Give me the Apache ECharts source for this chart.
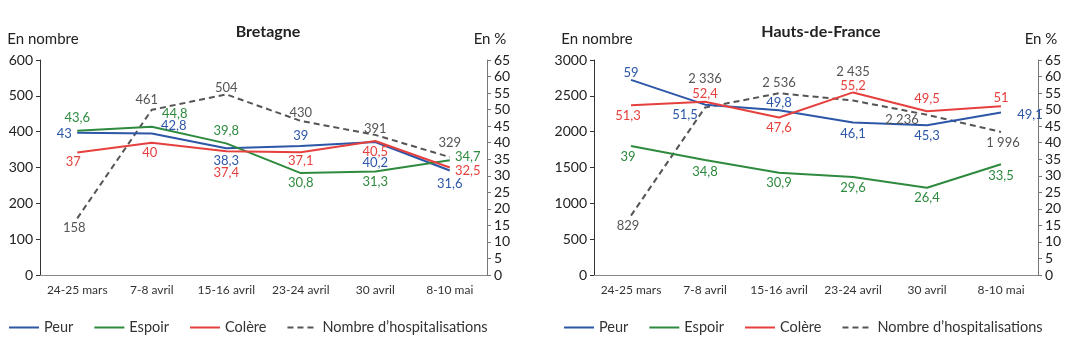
<!DOCTYPE html>
<html>
<head>
<meta charset="utf-8">
<script src="https://cdn.jsdelivr.net/npm/echarts@6/dist/echarts.min.js"></script>
<style>html,body{margin:0;padding:0;background:#fff}#c{width:1087px;height:339px}</style>
</head>
<body>
<div id="c"></div>
<script>
// ---- data ----
const categories = ['24-25 mars', '7-8 avril', '15-16 avril', '23-24 avril', '30 avril', '8-10 mai'];
const seriesNames = ['Peur', 'Espoir', 'Colère', 'Nombre d\u2019hospitalisations'];
const bretagnePeur = [43, 42.8, 38.3, 39, 40.2, 31.6];
const bretagneEspoir = [43.6, 44.8, 39.8, 30.8, 31.3, 34.7];
const bretagneColere = [37, 40, 37.4, 37.1, 40.5, 32.5];
const bretagneHosp = [158, 461, 504, 430, 391, 329];
const hdfPeur = [59, 51.5, 49.8, 46.1, 45.3, 49.1];
const hdfEspoir = [39, 34.8, 30.9, 29.6, 26.4, 33.5];
const hdfColere = [51.3, 52.4, 47.6, 55.2, 49.5, 51];
const hdfHosp = [829, 2336, 2536, 2435, 2236, 1996];

// ---- label placement (offsets from point, px) ----
const offB = {
  peur:   [[-13,1],[22,-8],[0,12],[0,-10],[0,21],[0,13]],
  espoir: [[0,-13],[23,-13],[0,-13],[0,10],[0,10],[18,-3]],
  colere: [[-4,9],[-2,10],[0,22],[0,9],[0,11],[18,3]],
  hosp:   [[-3,9],[-5,-10],[0,-7],[0,-8],[0,-6],[0,-14]]
};
const offH = {
  peur:   [[0,-7],[-20,10],[0,-7],[0,11],[0,11],[29,2]],
  espoir: [[-3,11],[0,12],[0,10],[0,11],[0,10],[0,12]],
  colere: [[-3,10],[0,-8],[0,10],[0,-7],[0,-12],[0,-8]],
  hosp:   [[-3,10],[0,-29],[0,-10],[0,-29],[-25,5],[2,11]]
};

const colors = { peur: '#2c56a6', espoir: '#2e8a3e', colere: '#e5403e', hosp: '#555555' };
const FONT = 'Lato';

function fmt(v) {
  let s = String(v).replace('.', ',');
  if (v >= 1000) s = s.replace(/\B(?=(\d{3})+(?!\d))/g, ' ');
  return s;
}

function mkSeries(name, values, offs, color, xi, yi, dashed) {
  return {
    name: name,
    type: 'line',
    xAxisIndex: xi,
    yAxisIndex: yi,
    symbol: 'circle',
    symbolSize: 1,
    itemStyle: { color: 'rgba(0,0,0,0)' },
    lineStyle: { color: color, width: 2, type: dashed ? [6, 4] : 'solid' },
    animation: false,
    label: {
      show: true,
      position: 'inside',
      color: color,
      fontFamily: FONT,
      fontSize: 13,
      formatter: p => fmt(p.value)
    },
    data: values.map((v, i) => ({ value: v, label: { offset: offs[i] } }))
  };
}

const leftAxisBase = {
  type: 'value',
  position: 'left',
  axisLine: { show: true, lineStyle: { color: '#333', width: 1 } },
  axisTick: { show: true, length: 4, lineStyle: { color: '#333' } },
  axisLabel: { color: '#222', fontFamily: FONT, fontSize: 14, margin: 7, formatter: v => String(v) },
  splitLine: { show: false },
  nameLocation: 'end',
  nameGap: 13,
  nameTextStyle: { color: '#222', fontFamily: FONT, fontSize: 15, align: 'center', padding: [0, 0, 0, 6] }
};
const rightAxisBase = {
  type: 'value',
  position: 'right',
  min: 0, max: 65, interval: 5,
  axisLine: { show: true, lineStyle: { color: '#777', width: 1 } },
  axisTick: { show: true, length: 4, lineStyle: { color: '#777' } },
  axisLabel: { color: '#222', fontFamily: FONT, fontSize: 14, margin: 7 },
  splitLine: { show: false },
  name: 'En %',
  nameLocation: 'end',
  nameGap: 13,
  nameTextStyle: { color: '#222', fontFamily: FONT, fontSize: 15, align: 'center', padding: [0, 0, 0, 6] }
};
const xBase = {
  type: 'category',
  data: categories,
  boundaryGap: true,
  axisLine: { show: true, lineStyle: { color: '#888', width: 1 } },
  axisTick: { show: false },
  axisLabel: { color: '#333', fontFamily: FONT, fontSize: 12, margin: 9, interval: 0 }
};

const legendBase = {
  itemWidth: 30,
  itemHeight: 10,
  itemGap: 20,
  itemStyle: { opacity: 0 },
  textStyle: { color: '#333', fontFamily: FONT, fontSize: 14.5 },
  data: seriesNames
};

const option = {
  backgroundColor: '#fff',
  animation: false,
  title: [
    { text: 'Bretagne', left: 263, top: 19, textAlign: 'center',
      textStyle: { fontFamily: FONT, fontSize: 16, fontWeight: 'bold', color: '#222' } },
    { text: 'Hauts-de-France', left: 816, top: 19, textAlign: 'center',
      textStyle: { fontFamily: FONT, fontSize: 16, fontWeight: 'bold', color: '#222' } }
  ],
  legend: [
    Object.assign({}, legendBase, { left: 3, top: 315 }),
    Object.assign({}, legendBase, { left: 558, top: 315 })
  ],
  grid: [
    { left: 40, right: 600, top: 60, bottom: 64 },
    { left: 594, right: 49, top: 60, bottom: 64 }
  ],
  xAxis: [
    Object.assign({}, xBase, { gridIndex: 0 }),
    Object.assign({}, xBase, { gridIndex: 1 })
  ],
  yAxis: [
    Object.assign({}, leftAxisBase, { gridIndex: 0, min: 0, max: 600, interval: 100, name: 'En nombre' }),
    Object.assign({}, rightAxisBase, { gridIndex: 0 }),
    Object.assign({}, leftAxisBase, { gridIndex: 1, min: 0, max: 3000, interval: 500, name: 'En nombre' }),
    Object.assign({}, rightAxisBase, { gridIndex: 1 })
  ],
  series: [
    mkSeries(seriesNames[3], bretagneHosp, offB.hosp, colors.hosp, 0, 0, true),
    mkSeries(seriesNames[0], bretagnePeur, offB.peur, colors.peur, 0, 1, false),
    mkSeries(seriesNames[1], bretagneEspoir, offB.espoir, colors.espoir, 0, 1, false),
    mkSeries(seriesNames[2], bretagneColere, offB.colere, colors.colere, 0, 1, false),
    mkSeries(seriesNames[3], hdfHosp, offH.hosp, colors.hosp, 1, 2, true),
    mkSeries(seriesNames[0], hdfPeur, offH.peur, colors.peur, 1, 3, false),
    mkSeries(seriesNames[1], hdfEspoir, offH.espoir, colors.espoir, 1, 3, false),
    mkSeries(seriesNames[2], hdfColere, offH.colere, colors.colere, 1, 3, false)
  ]
};

const chart = echarts.init(document.getElementById('c'), null, { renderer: 'canvas' });
chart.setOption(option);
</script>
</body>
</html>
